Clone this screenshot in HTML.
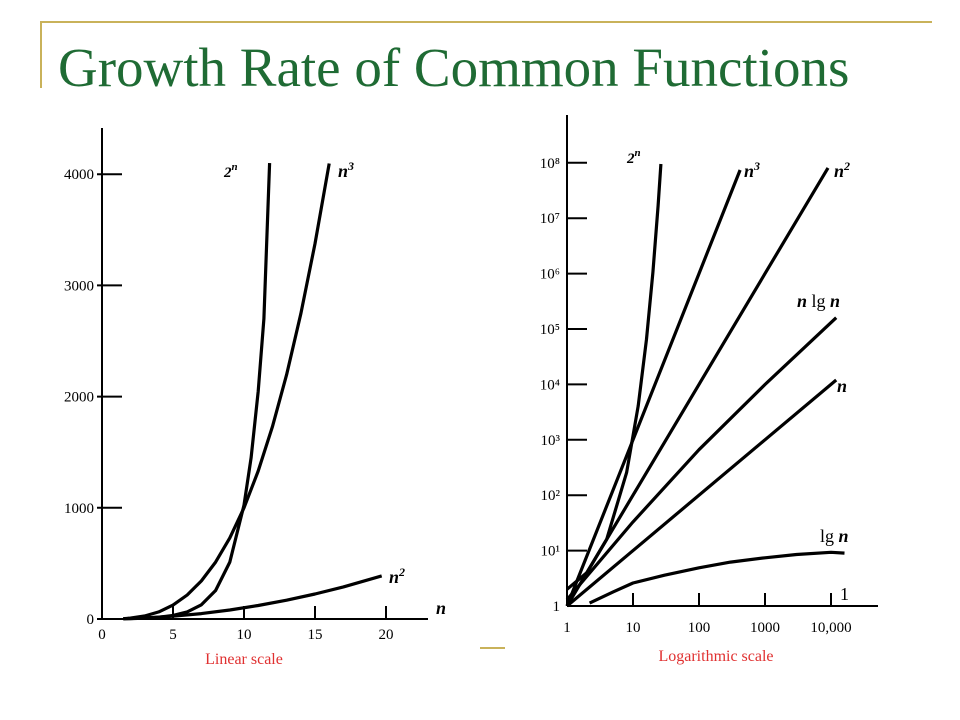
<!DOCTYPE html>
<html><head><meta charset="utf-8"><style>
body{margin:0;background:#fff;}
svg{display:block;font-family:"Liberation Serif",serif;}
</style></head><body>
<svg id="s" width="960" height="720" viewBox="0 0 960 720">
<line x1="40" y1="22" x2="932" y2="22" stroke="#c9b25a" stroke-width="2"/>
<line x1="41" y1="22" x2="41" y2="88" stroke="#c9b25a" stroke-width="2"/>
<line x1="480" y1="648" x2="505" y2="648" stroke="#c9b25a" stroke-width="2"/>
<text x="58" y="86" font-size="55" fill="#1f6b34">Growth Rate of Common Functions</text>
<g id="lin"></g>
<g id="log"></g>
</svg>
<script>
// Linear chart data
const linYTicks=[0,1000,2000,3000,4000];
const linXTicks=[0,5,10,15,20];
const linPow2N=[1.5,2,3,4,5,6,7,8,9,10,10.5,11,11.4,11.8];
const linPow2V=[3,4,8,16,32,64,128,256,512,1024,1450,2048,2700,4100];
const linCubeN=[1.5,2,3,4,5,6,7,8,9,10,11,12,13,14,15,16];
const linCubeV=[3,8,27,64,125,216,343,512,729,1000,1331,1728,2197,2744,3375,4096];
const linSqN=[1.5,3,5,7,9,11,13,15,17,19.7];
const linSqV=[2,9,25,49,81,121,169,225,289,388];
// Log chart data
const logYTicks=[0,1,2,3,4,5,6,7,8];
const logYLabels=["1","10\u00B9","10\u00B2","10\u00B3","10\u2074","10\u2075","10\u2076","10\u2077","10\u2078"];
const logXTicks=[1,10,100,1000,10000];
const logXLabels=["1","10","100","1000","10,000"];
const logPow2N=[1,2,4,8,12,16,20,24,26.5];
const logPow2V=[2,4,16,256,4096,65536,1.05e6,1.68e7,9.5e7];
const logCubeN=[1,10,100,420];
const logCubeV=[1,1e3,1e6,7.4e7];
const logSqN=[1,10,100,1000,9000];
const logSqV=[1,100,1e4,1e6,8.1e7];
const logNlgnN=[1,10,100,1000,12000];
const logNlgnV=[1.3,33,664,9966,1.6e5];
const logNN=[1,12000];
const logNV=[1,12000];
const logLgN=[2.2,5,10,30,100,300,1000,3000,10000,16000];
const logLgV=[1.13,1.8,2.6,3.6,4.9,6.2,7.4,8.5,9.3,9.0];

const NS="http://www.w3.org/2000/svg";
function mk(parent,tag,attrs){const e=document.createElementNS(NS,tag);for(const k in attrs)e.setAttribute(k,attrs[k]);parent.appendChild(e);return e;}

// Linear axes
const L=document.getElementById('lin');
const lx=v=>102+v*14.2, ly=v=>619-v*0.1112;
let e;
e=mk(L,'line',{x1:102,y1:128,x2:102,y2:619,stroke:'#000','stroke-width':2});


e=mk(L,'line',{x1:102,y1:619,x2:428,y2:619,stroke:'#000','stroke-width':2});


linYTicks.forEach(v=>{
 e=mk(L,'line',{x1:97,y1:ly(v),x2:122,y2:ly(v),stroke:'#000','stroke-width':2});
 
 
 e=mk(L,'text',{x:94,y:ly(v)+5,'font-size':15,'text-anchor':'end'});e.textContent=v;
 
 
});
linXTicks.forEach(v=>{
 if(v>0){e=mk(L,'line',{x1:lx(v),y1:606,x2:lx(v),y2:619,stroke:'#000','stroke-width':2});
 
 }
 e=mk(L,'text',{x:lx(v),y:639,'font-size':15,'text-anchor':'middle'});e.textContent=v;
 
 
});
function poly(g,ns,vs,fx,fy,name){
 const p=ns.map((n,i)=>fx(n).toFixed(1)+','+fy(vs[i]).toFixed(1)).join(' ');
 const el=mk(g,'polyline',{points:p,fill:'none',stroke:'#000','stroke-width':3.2,'stroke-linejoin':'round'});
 
 
}
poly(L,linPow2N,linPow2V,lx,ly,'lin-series-2n');
poly(L,linCubeN,linCubeV,lx,ly,'lin-series-n3');
poly(L,linSqN,linSqV,lx,ly,'lin-series-n2');
function lbl(g,x,y,html,name,size){
 const t=mk(g,'text',{x:x,y:y,'font-size':size||18,'font-style':'italic','font-weight':'bold'});t.innerHTML=html;
 
 
}
lbl(L,224,177,'2<tspan font-size="11" dy="-7">n</tspan>','lin-label-2n',15);
lbl(L,338,177,'n<tspan font-size="12" dy="-7">3</tspan>','lin-label-n3');
lbl(L,389,583,'n<tspan font-size="12" dy="-7">2</tspan>','lin-label-n2');
lbl(L,436,614,'n','lin-x-title');
e=mk(L,'text',{x:244,y:664,'font-size':16,'text-anchor':'middle',fill:'#e03030'});e.textContent='Linear scale';



// Log axes
const G=document.getElementById('log');
const gx=v=>567+Math.log10(v)*66, gy=v=>606-Math.log10(v)*55.4;
e=mk(G,'line',{x1:567,y1:115,x2:567,y2:606,stroke:'#000','stroke-width':2});


e=mk(G,'line',{x1:567,y1:606,x2:878,y2:606,stroke:'#000','stroke-width':2});


logYTicks.forEach((v,i)=>{
 const y=606-v*55.4;
 if(v>0){e=mk(G,'line',{x1:567,y1:y,x2:587,y2:y,stroke:'#000','stroke-width':2});
 
 }
 e=mk(G,'text',{x:560,y:y+5,'font-size':15,'text-anchor':'end'});e.textContent=logYLabels[i];
 
 
});
logXTicks.forEach((v,i)=>{
 if(v>1){e=mk(G,'line',{x1:gx(v),y1:593,x2:gx(v),y2:606,stroke:'#000','stroke-width':2});
 
 }
 e=mk(G,'text',{x:gx(v),y:632,'font-size':15,'text-anchor':'middle'});e.textContent=logXLabels[i];
 
 
});
poly(G,logPow2N,logPow2V,gx,gy,'log-series-2n');
poly(G,logCubeN,logCubeV,gx,gy,'log-series-n3');
poly(G,logSqN,logSqV,gx,gy,'log-series-n2');
poly(G,logNlgnN,logNlgnV,gx,gy,'log-series-nlgn');
poly(G,logNN,logNV,gx,gy,'log-series-n');
poly(G,logLgN,logLgV,gx,gy,'log-series-lgn');
lbl(G,627,163,'2<tspan font-size="11" dy="-7">n</tspan>','log-label-2n',15);
lbl(G,744,177,'n<tspan font-size="12" dy="-7">3</tspan>','log-label-n3');
lbl(G,834,177,'n<tspan font-size="12" dy="-7">2</tspan>','log-label-n2');
lbl(G,797,307,'n <tspan font-style="normal" font-weight="normal">lg</tspan> n','log-label-nlgn');
lbl(G,837,392,'n','log-label-n');
lbl(G,820,542,'<tspan font-style="normal" font-weight="normal">lg</tspan> n','log-label-lgn');
e=mk(G,'text',{x:840,y:600,'font-size':18});e.textContent='1';


e=mk(G,'text',{x:716,y:661,'font-size':16,'text-anchor':'middle',fill:'#e03030'});e.textContent='Logarithmic scale';


</script>
</body></html>
